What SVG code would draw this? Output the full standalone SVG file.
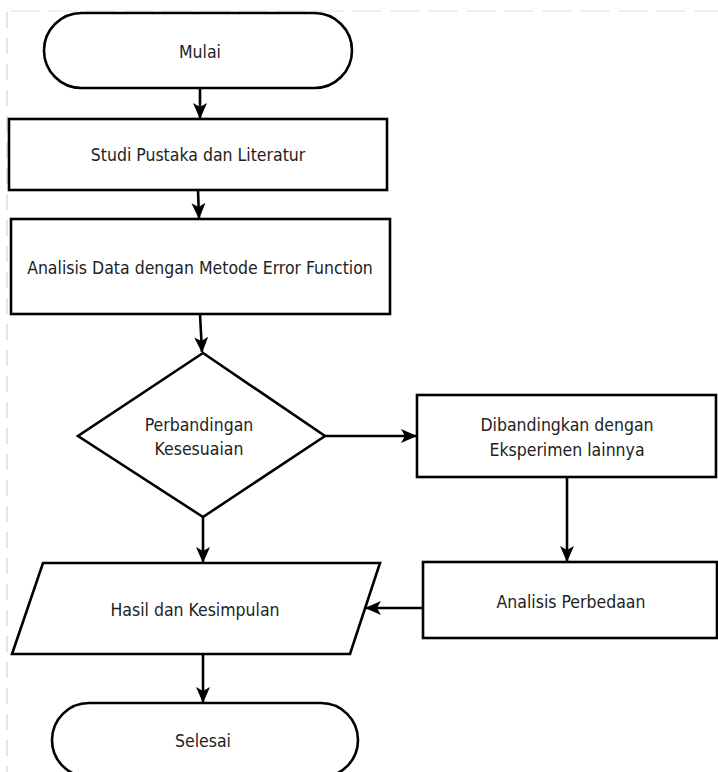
<svg xmlns="http://www.w3.org/2000/svg" width="718" height="772" viewBox="0 0 718 772">
<defs>
<style>
.s{fill:#fff;stroke:#000;stroke-width:2.6}
.t{font-family:"DejaVu Sans Condensed","DejaVu Sans",sans-serif;font-size:17.5px;fill:#222;text-anchor:middle}
.c{fill:none;stroke:#000;stroke-width:2.6}
</style>
<marker id="ah" viewBox="0 0 16 14" refX="15" refY="7" markerWidth="16" markerHeight="14" markerUnits="userSpaceOnUse" orient="auto">
<path d="M0,0 L16,7 L0,14 L4,7 Z" fill="#000"/>
</marker>
</defs>
<rect width="718" height="772" fill="#fff"/>
<line x1="7" y1="12" x2="7" y2="772" stroke="#ddd" stroke-width="1.5" stroke-dasharray="16,10"/>
<line x1="10" y1="11" x2="718" y2="11" stroke="#f0f0f0" stroke-width="2" stroke-dasharray="30,8"/>
<g id="mulai"><rect class="s" x="44" y="13" width="308" height="75" rx="37.5"/><text class="t" x="200" y="58">Mulai</text></g>
<g id="studi"><rect class="s" x="9" y="119" width="378" height="71"/><text class="t" x="198" y="161">Studi Pustaka dan Literatur</text></g>
<g id="analisis"><rect class="s" x="11" y="219" width="379" height="95"/><text class="t" x="200" y="274">Analisis Data dengan Metode Error Function</text></g>
<g id="perbandingan"><polygon class="s" points="203,353 325,436 203,517 78,436"/><text class="t" x="199" y="431">Perbandingan</text><text class="t" x="199" y="455">Kesesuaian</text></g>
<g id="dibandingkan"><rect class="s" x="417" y="395" width="299" height="82"/><text class="t" x="567" y="431">Dibandingkan dengan</text><text class="t" x="567" y="456">Eksperimen lainnya</text></g>
<g id="perbedaan"><rect class="s" x="423" y="562" width="294" height="76"/><text class="t" x="571" y="608">Analisis Perbedaan</text></g>
<g id="hasil"><polygon class="s" points="43,563 380,563 350,654 12,654"/><text class="t" x="195" y="616">Hasil dan Kesimpulan</text></g>
<g id="selesai"><rect class="s" x="52" y="703" width="306" height="74" rx="37"/><text class="t" x="203" y="747">Selesai</text></g>
<g id="connectors">
<line class="c" x1="200" y1="88" x2="200" y2="118" marker-end="url(#ah)"/>
<line class="c" x1="198" y1="190" x2="199" y2="218" marker-end="url(#ah)"/>
<line class="c" x1="200" y1="314" x2="202" y2="352" marker-end="url(#ah)"/>
<line class="c" x1="325" y1="436" x2="416" y2="436" marker-end="url(#ah)"/>
<line class="c" x1="567" y1="477" x2="567" y2="561" marker-end="url(#ah)"/>
<line class="c" x1="423" y1="608" x2="366" y2="608" marker-end="url(#ah)"/>
<line class="c" x1="203" y1="517" x2="203" y2="562" marker-end="url(#ah)"/>
<line class="c" x1="203" y1="654" x2="203" y2="702" marker-end="url(#ah)"/>
</g>
</svg>
